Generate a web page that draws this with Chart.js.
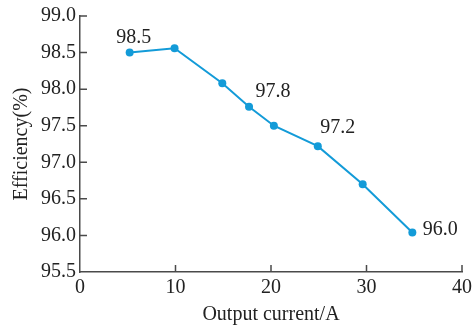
<!DOCTYPE html>
<html>
<head>
<meta charset="utf-8">
<script src="https://cdn.jsdelivr.net/npm/chart.js@4"></script>
<style>
  html, body { margin: 0; padding: 0; background: #fff; }
  #wrap { width: 476px; height: 325px; }
</style>
</head>
<body>
<div id="wrap"><canvas id="myChart"></canvas></div>
<script>
// output current (A) and measured efficiency (%)
var current = [5.2, 9.9, 14.9, 17.7, 20.3, 24.9, 29.6, 34.8];
var efficiency = [98.5, 98.56, 98.08, 97.76, 97.5, 97.22, 96.7, 96.04];
// which points get a value label, and where it sits relative to the point
var labelled = [0, 3, 5, 7];
var labelOffsets = [[4, -15], [24, -15], [20, -18], [28, -3]];

var serif = "'Liberation Serif', 'DejaVu Serif', serif";
var axisColor = "#4a4a4a";
var textColor = "#222";

// short tick marks pointing into the plot area
var innerTicks = {
  id: "innerTicks",
  afterDraw: function (chart) {
    var ctx = chart.ctx;
    var xs = chart.scales.x, ys = chart.scales.y;
    var area = chart.chartArea;
    ctx.save();
    ctx.strokeStyle = axisColor;
    ctx.lineWidth = 1.5;
    ctx.beginPath();
    xs.ticks.forEach(function (t) {
      if (t.value === xs.min) return;
      var px = xs.getPixelForValue(t.value);
      ctx.moveTo(px, area.bottom);
      ctx.lineTo(px, area.bottom - 7);
    });
    ys.ticks.forEach(function (t) {
      if (t.value === ys.min) return;
      var py = ys.getPixelForValue(t.value);
      ctx.moveTo(area.left, py);
      ctx.lineTo(area.left + 7, py);
    });
    ctx.stroke();
    ctx.restore();
  }
};

// value labels next to selected points
var pointLabels = {
  id: "pointLabels",
  afterDatasetsDraw: function (chart) {
    var ctx = chart.ctx;
    var meta = chart.getDatasetMeta(0);
    ctx.save();
    ctx.font = "20px " + serif;
    ctx.fillStyle = textColor;
    ctx.textAlign = "center";
    ctx.textBaseline = "middle";
    labelled.forEach(function (i, k) {
      var el = meta.data[i];
      ctx.fillText(efficiency[i].toFixed(1), el.x + labelOffsets[k][0], el.y + labelOffsets[k][1]);
    });
    ctx.restore();
  }
};

var ctx = document.getElementById("myChart").getContext("2d");
var chart = new Chart(ctx, {
  type: "line",
  data: {
    datasets: [
      {
        data: current.map(function (c, i) { return { x: c, y: efficiency[i] }; }),
        borderColor: "#139bd8",
        backgroundColor: "#139bd8",
        borderWidth: 2,
        pointRadius: 4,
        pointHoverRadius: 4,
        pointBorderWidth: 0,
        tension: 0
      }
    ]
  },
  options: {
    responsive: true,
    maintainAspectRatio: false,
    animation: false,
    events: [],
    layout: { padding: { top: 15, right: 8, left: 0, bottom: 0 } },
    plugins: {
      legend: { display: false },
      tooltip: { enabled: false }
    },
    scales: {
      x: {
        type: "linear",
        min: 0,
        max: 40,
        grid: { display: false, drawTicks: false, tickLength: 0 },
        border: { display: true, color: axisColor, width: 1.5 },
        ticks: {
          stepSize: 10,
          padding: 4,
          color: textColor,
          font: { family: serif, size: 20 },
          maxRotation: 0
        },
        title: {
          display: true,
          text: "Output current/A",
          color: textColor,
          font: { family: serif, size: 20 },
          padding: { top: 0, bottom: -2 }
        },
        afterFit: function (scale) { scale.height = 53; }
      },
      y: {
        min: 95.5,
        max: 99.0,
        grid: { display: false, drawTicks: false, tickLength: 0 },
        border: { display: true, color: axisColor, width: 1.5 },
        ticks: {
          stepSize: 0.5,
          padding: 4,
          color: textColor,
          font: { family: serif, size: 20 },
          callback: function (v) { return v.toFixed(1); }
        },
        title: {
          display: true,
          text: "Efficiency(%)",
          color: textColor,
          font: { family: serif, size: 20 },
          padding: { top: 10, bottom: 0 }
        },
        afterFit: function (scale) { scale.width = 80; }
      }
    }
  },
  plugins: [innerTicks, pointLabels]
});
</script>
</body>
</html>
